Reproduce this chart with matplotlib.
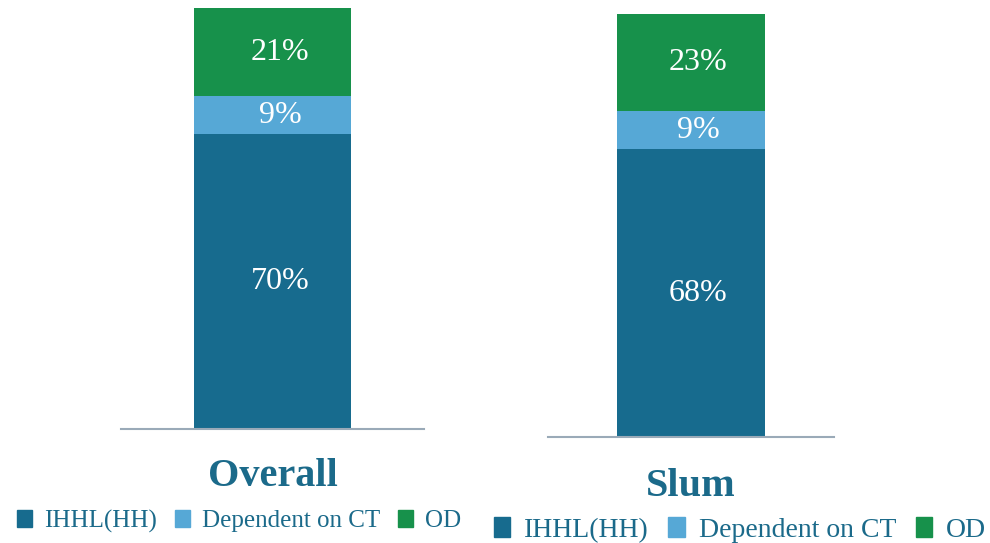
import matplotlib.pyplot as plt
from matplotlib.patches import Patch

plt.rcParams['font.family'] = ['Liberation Serif', 'DejaVu Serif']

groups = ['Overall', 'Slum']
categories = ['IHHL(HH)', 'Dependent on CT', 'OD']
overall = [70, 9, 21]
slum = [68, 9, 23]
colors = ['#176B8E', '#56A8D6', '#17914B']
title_color = '#1B6A8A'

W, H = 990, 543
fig = plt.figure(figsize=(W / 100, H / 100), dpi=100)

# axes boxes in pixels: left, right, bottom, top
boxes = [(121, 424, 429, 8), (548, 834, 437, 14)]
half = [0.97, 0.966]
title_y = [476, 486]
legend_pos = [(239, 521, 18), (740, 530, 20)]

for i, (name, vals) in enumerate(zip(groups, [overall, slum])):
    l, r, b, t = boxes[i]
    ax = fig.add_axes([l / W, 1 - b / H, (r - l) / W, (b - t) / H])
    bottom = 0
    for v, c in zip(vals, colors):
        ax.bar(0, v, width=1, bottom=bottom, color=c)
        ax.text(0.05, bottom + v / 2, f'{v}%', ha='center', va='center',
                color='white', fontsize=23)
        bottom += v
    ax.set_xlim(-half[i], half[i])
    ax.set_ylim(0, 100)
    for s in ['top', 'right', 'left']:
        ax.spines[s].set_visible(False)
    ax.spines['bottom'].set_color('#9AAAB8')
    ax.spines['bottom'].set_linewidth(1.5)
    ax.set_xticks([])
    ax.set_yticks([])
    ax.patch.set_alpha(0)

    fig.text((l + r) / 2 / W, 1 - title_y[i] / H, name, ha='center', va='center',
             fontsize=29, fontweight='bold', color=title_color)

    handles = [Patch(color=c, label=k) for c, k in zip(colors, categories)]
    lx, ly, fs = legend_pos[i]
    leg = fig.legend(handles=handles, loc='center', bbox_to_anchor=(lx / W, 1 - ly / H),
                     ncol=3, frameon=False, fontsize=fs, handlelength=0.6,
                     handleheight=0.7, handletextpad=0.5, columnspacing=0.7,
                     borderaxespad=0, borderpad=0)
    for txt in leg.get_texts():
        txt.set_color(title_color)

fig.savefig('out.png', dpi=100)
